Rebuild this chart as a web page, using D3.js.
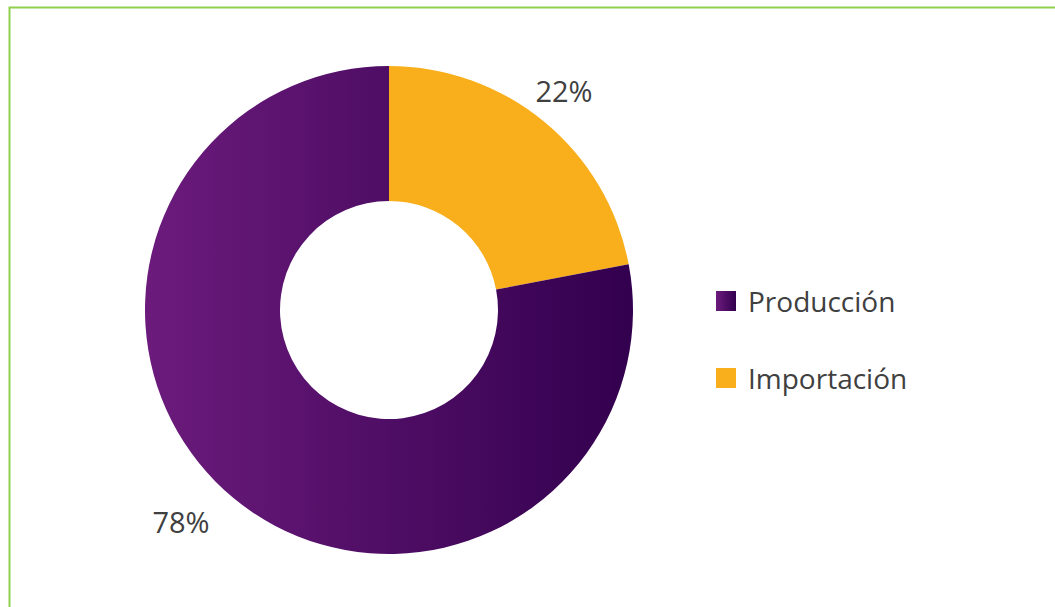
<!DOCTYPE html>
<html>
<head>
<meta charset="utf-8">
<script src="https://cdn.jsdelivr.net/npm/d3@7"></script>
<style>
  html, body { margin: 0; padding: 0; background: #fff; }
  svg { display: block; }
</style>
</head>
<body>
<svg id="chart" width="1055" height="607"></svg>
<script>
const categories = ["Importación", "Producción"];
const values = [22, 78];
const labels = ["22%", "78%"];
const legendOrder = ["Producción", "Importación"];

const svg = d3.select("#chart");
const cx = 389, cy = 310, rOuter = 244, rInner = 109;
const font = "'Open Sans', 'Noto Sans', sans-serif";
const textColor = "#404040";

const defs = svg.append("defs");
const g1 = defs.append("linearGradient").attr("id", "purpleGrad")
  .attr("gradientUnits", "userSpaceOnUse")
  .attr("x1", -rOuter).attr("x2", rOuter).attr("y1", 0).attr("y2", 0);
g1.append("stop").attr("offset", "0%").attr("stop-color", "#6c1b7c");
g1.append("stop").attr("offset", "100%").attr("stop-color", "#32004e");
const g2 = defs.append("linearGradient").attr("id", "purpleGradBox")
  .attr("x1", 0).attr("x2", 1).attr("y1", 0).attr("y2", 0);
g2.append("stop").attr("offset", "0%").attr("stop-color", "#6c1b7c");
g2.append("stop").attr("offset", "100%").attr("stop-color", "#32004e");

const fills = { "Importación": "#f9ae1b", "Producción": "url(#purpleGrad)" };
const legendFills = { "Importación": "#f9ae1b", "Producción": "url(#purpleGradBox)" };

// frame
svg.append("rect").attr("x", 9.5).attr("y", 7.5).attr("width", 1200).attr("height", 800)
  .attr("fill", "none").attr("stroke", "#92d050").attr("stroke-width", 2);

const data = categories.map((c, i) => ({ cat: c, value: values[i], label: labels[i] }));
const pie = d3.pie().value(d => d.value).sort(null);
const arc = d3.arc().innerRadius(rInner).outerRadius(rOuter);
const arcs = pie(data);

const g = svg.append("g").attr("transform", `translate(${cx},${cy})`);
g.selectAll("path").data(arcs).join("path")
  .attr("d", arc)
  .attr("fill", d => fills[d.data.cat]);

// labels
const labelPos = {
  "Importación": [564 - cx, 102 - cy],
  "Producción": [181 - cx, 533 - cy]
};
g.selectAll("text.lbl").data(arcs).join("text")
  .attr("class", "lbl")
  .attr("x", d => labelPos[d.data.cat][0])
  .attr("y", d => labelPos[d.data.cat][1])
  .attr("text-anchor", "middle")
  .attr("font-family", font).attr("font-size", 29)
  .attr("fill", textColor)
  .text(d => d.data.label);

// legend
const legend = svg.append("g");
const ly = d3.scaleOrdinal().domain(legendOrder).range([301, 378]);
legendOrder.forEach(c => {
  legend.append("rect").attr("x", 716).attr("y", ly(c) - 10).attr("width", 20).attr("height", 20)
    .attr("fill", legendFills[c]);
  legend.append("text").attr("x", 748).attr("y", ly(c) + 11)
    .attr("font-family", font).attr("font-size", 28).attr("fill", textColor)
    .text(c);
});
</script>
</body>
</html>
